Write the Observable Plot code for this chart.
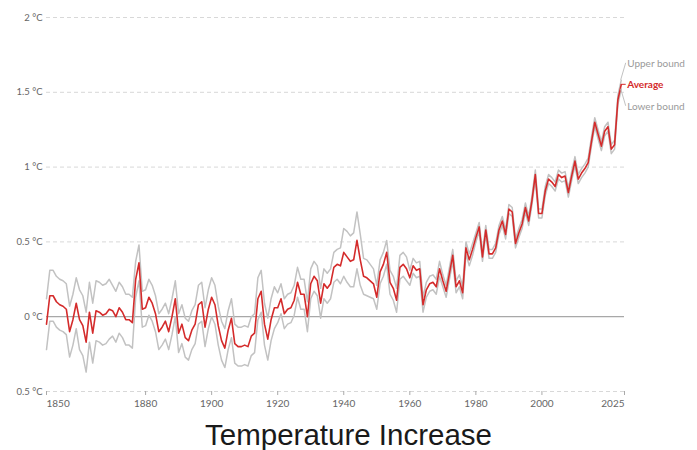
<!DOCTYPE html>
<html>
<head>
<meta charset="utf-8">
<script src="https://cdn.jsdelivr.net/npm/d3@7"></script>
<script src="https://cdn.jsdelivr.net/npm/@observablehq/plot@0.6"></script>
<style>
  html, body { margin: 0; padding: 0; background: #fff; overflow: hidden; }
  #chart { width: 697px; height: 415px; }
  #title { width: 697px; text-align: center; font-family: 'Liberation Sans', Arial, sans-serif; font-size: 29.5px; font-weight: normal; color: #1a1a1a; line-height: 30px; margin-top: 5px; }
</style>
</head>
<body>
<div id="chart"></div>
<div id="title">Temperature Increase</div>
<script>
const startYear = 1850;
const average = [
-0.05,0.14,0.14,0.10,0.08,0.07,0.05,-0.10,-0.02,0.09,
-0.02,-0.06,-0.17,0.03,-0.11,0.04,0.03,0.01,0.02,0.05,
0.04,0.00,0.06,0.03,-0.02,-0.02,-0.04,0.25,0.36,0.05,
0.06,0.13,0.09,0.02,-0.10,-0.07,-0.03,-0.10,0.00,0.12,
-0.11,-0.05,-0.14,-0.16,-0.09,-0.05,0.08,0.10,-0.07,0.05,
0.13,0.08,-0.06,-0.16,-0.21,-0.09,-0.01,-0.18,-0.20,-0.20,
-0.19,-0.20,-0.13,-0.11,0.12,0.17,-0.05,-0.15,-0.02,0.06,
0.06,0.12,0.02,0.05,0.06,0.11,0.23,0.15,0.15,0.00,
0.22,0.27,0.24,0.09,0.22,0.19,0.22,0.33,0.35,0.34,
0.43,0.40,0.37,0.38,0.51,0.38,0.27,0.26,0.24,0.22,
0.13,0.30,0.35,0.43,0.23,0.19,0.11,0.33,0.35,0.32,
0.26,0.34,0.31,0.32,0.08,0.18,0.22,0.23,0.20,0.32,
0.24,0.17,0.29,0.41,0.20,0.24,0.16,0.46,0.38,0.45,
0.53,0.60,0.40,0.58,0.42,0.42,0.46,0.58,0.64,0.55,
0.72,0.70,0.49,0.56,0.62,0.73,0.64,0.78,0.95,0.69,
0.69,0.84,0.92,0.90,0.87,0.95,0.93,0.94,0.83,0.94,
1.04,0.92,0.96,0.99,1.03,1.17,1.30,1.22,1.14,1.24,
1.27,1.12,1.15,1.45,1.55
];
const upperBound = [
0.12,0.31,0.31,0.27,0.25,0.24,0.22,0.07,0.15,0.26,
0.18,0.14,0.03,0.23,0.09,0.24,0.23,0.21,0.22,0.25,
0.21,0.17,0.23,0.20,0.15,0.15,0.13,0.37,0.48,0.17,
0.18,0.25,0.21,0.14,0.02,0.05,0.09,0.02,0.12,0.24,
0.02,0.08,-0.01,-0.03,0.04,0.08,0.21,0.23,0.06,0.18,
0.26,0.21,0.07,-0.03,-0.08,0.04,0.12,-0.05,-0.07,-0.07,
-0.06,-0.07,0.00,0.02,0.26,0.31,0.09,-0.01,0.12,0.20,
0.16,0.22,0.12,0.15,0.16,0.21,0.33,0.25,0.25,0.10,
0.32,0.37,0.34,0.19,0.32,0.29,0.32,0.43,0.45,0.46,
0.59,0.57,0.54,0.56,0.70,0.55,0.39,0.38,0.35,0.32,
0.21,0.38,0.43,0.51,0.31,0.27,0.19,0.41,0.43,0.40,
0.31,0.39,0.36,0.37,0.13,0.23,0.27,0.28,0.25,0.37,
0.28,0.21,0.33,0.45,0.24,0.28,0.20,0.50,0.42,0.49,
0.56,0.63,0.43,0.61,0.45,0.45,0.49,0.61,0.67,0.58,
0.75,0.73,0.52,0.59,0.65,0.76,0.67,0.81,0.98,0.72,
0.72,0.87,0.95,0.93,0.90,0.98,0.96,0.97,0.86,0.97,
1.07,0.95,0.99,1.02,1.06,1.20,1.33,1.25,1.17,1.27,
1.30,1.15,1.18,1.48,1.58
];
const lowerBound = [
-0.22,-0.03,-0.03,-0.07,-0.09,-0.10,-0.12,-0.27,-0.19,-0.08,
-0.22,-0.26,-0.37,-0.17,-0.31,-0.16,-0.17,-0.19,-0.18,-0.15,
-0.13,-0.17,-0.11,-0.14,-0.19,-0.19,-0.21,0.13,0.24,-0.07,
-0.06,0.01,-0.03,-0.10,-0.22,-0.19,-0.15,-0.22,-0.12,0.00,
-0.24,-0.18,-0.27,-0.29,-0.22,-0.18,-0.05,-0.03,-0.20,-0.08,
0.00,-0.05,-0.19,-0.29,-0.34,-0.22,-0.14,-0.31,-0.33,-0.33,
-0.32,-0.33,-0.26,-0.24,-0.02,0.03,-0.19,-0.29,-0.16,-0.08,
-0.04,0.02,-0.08,-0.05,-0.04,0.01,0.13,0.05,0.05,-0.10,
0.12,0.17,0.14,-0.01,0.12,0.09,0.12,0.23,0.25,0.22,
0.27,0.23,0.20,0.20,0.32,0.21,0.15,0.14,0.13,0.12,
0.05,0.22,0.27,0.35,0.15,0.11,0.03,0.25,0.27,0.24,
0.21,0.29,0.26,0.27,0.03,0.13,0.17,0.18,0.15,0.27,
0.20,0.13,0.25,0.37,0.16,0.20,0.12,0.42,0.34,0.41,
0.50,0.57,0.37,0.55,0.39,0.39,0.43,0.55,0.61,0.52,
0.69,0.67,0.46,0.53,0.59,0.70,0.61,0.75,0.92,0.66,
0.66,0.81,0.89,0.87,0.84,0.92,0.90,0.91,0.80,0.91,
1.01,0.89,0.93,0.96,1.00,1.14,1.27,1.19,1.11,1.21,
1.24,1.09,1.12,1.42,1.52
];
const yTicks = [-0.5, 0, 0.5, 1, 1.5, 2];
const yTickLabels = ["0.5 °C", "0 °C", "0.5 °C", "1 °C", "1.5 °C", "2 °C"];
const xTicks = [1850, 1880, 1900, 1920, 1940, 1960, 1980, 2000, 2025];
const seriesNames = ["Upper bound", "Average", "Lower bound"];
const seriesColors = ["#c2c2c2", "#d42b2b", "#c2c2c2"];
const labelColors = ["#9a9a9a", "#d42b2b", "#9a9a9a"];

const rows = average.map((v, i) => ({
  year: startYear + i, average: v, upper: upperBound[i], lower: lowerBound[i]
}));
const last = rows[rows.length - 1];
const lastValues = [last.upper, last.average, last.lower];
const labelDy = [-17, 0, 17];

const font = "Lato, 'Open Sans', sans-serif";
const plot = Plot.plot({
  width: 697,
  height: 415,
  marginLeft: 46,
  marginRight: 73,
  marginTop: 17,
  marginBottom: 24,
  style: { fontFamily: font, fontSize: "10px", color: "#666", background: "#fff" },
  x: { domain: [1850, 2025] },
  y: { domain: [-0.5, 2] },
  marks: [
    Plot.ruleY(yTicks.filter(d => d !== 0), { stroke: "#d8d8d8", strokeDasharray: "4,3", strokeWidth: 1 }),
    Plot.ruleY([0], { stroke: "#a8a8a8", strokeWidth: 1.2 }),
    Plot.axisY(yTicks, { tickSize: 0, tickPadding: 4, tickFormat: (d) => yTickLabels[yTicks.indexOf(d)], fontSize: 9.5, fill: "#666", label: null }),
    Plot.axisX(xTicks.slice(1, -1), { tickSize: 4, tickPadding: 4, stroke: "#aaa", tickFormat: d => String(d), label: null, fill: "#666" }),
    Plot.axisX([xTicks[0]], { tickSize: 4, tickPadding: 4, stroke: "#aaa", tickFormat: d => String(d), textAnchor: "start", label: null, fill: "#666" }),
    Plot.axisX([xTicks[xTicks.length - 1]], { tickSize: 4, tickPadding: 4, stroke: "#aaa", tickFormat: d => String(d), textAnchor: "end", label: null, fill: "#666" }),
    Plot.line(rows, { x: "year", y: "upper", stroke: seriesColors[0], strokeWidth: 1.5 }),
    Plot.line(rows, { x: "year", y: "lower", stroke: seriesColors[2], strokeWidth: 1.5 }),
    Plot.line(rows, { x: "year", y: "average", stroke: seriesColors[1], strokeWidth: 1.6 }),
    ...seriesNames.map((name, i) => Plot.text([name], {
      x: () => last.year, y: () => lastValues[i], text: d => d,
      dx: 6, dy: labelDy[i], textAnchor: "start", fill: labelColors[i],
      fontSize: 10, fontWeight: i === 1 ? "bold" : "normal"
    }))
  ]
});
document.getElementById("chart").appendChild(plot);

// connectors from the series end to the shifted labels
const xs = plot.scale("x"), ys = plot.scale("y");
const svg = d3.select(plot);
seriesNames.forEach((name, i) => {
  const x0 = xs.apply(last.year), y0 = ys.apply(lastValues[i]);
  svg.append("line")
    .attr("x1", x0).attr("y1", y0)
    .attr("x2", x0 + 5).attr("y2", y0 + labelDy[i])
    .attr("stroke", seriesColors[i]).attr("stroke-width", 1);
});
</script>
</body>
</html>
